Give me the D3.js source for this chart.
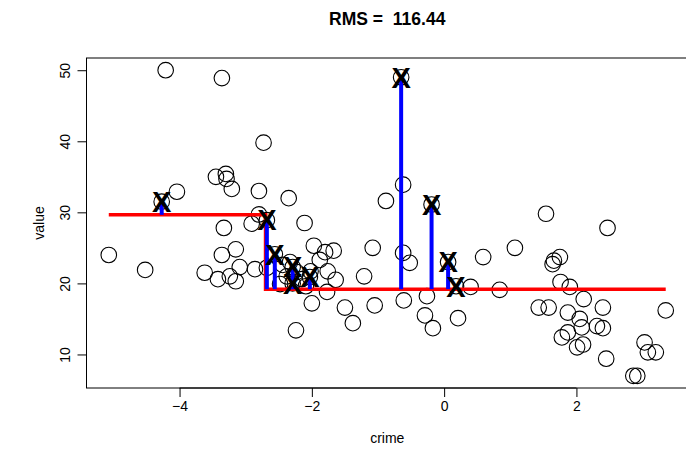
<!DOCTYPE html>
<html>
<head>
<meta charset="utf-8">
<script src="https://cdn.jsdelivr.net/npm/d3@7/dist/d3.min.js"></script>
<style>
  html, body { margin: 0; padding: 0; background: #fff; }
  svg { display: block; font-family: "Liberation Sans", Arial, Helvetica, sans-serif; }
</style>
</head>
<body>
<div id="chart"></div>
<script>
// Training observations (crime, value)
const trainCrime = [
  -5.07, -4.52, -4.21, -4.04, -3.36, -2.73, -3.45, -3.30, -3.29, -3.21,
  -2.80, -2.80, -3.33, -2.91, -3.36, -3.15, -3.62, -3.42, -3.24, -3.15,
  -3.09, -2.86, -2.68, -2.35, -2.11, -1.97, -1.80, -1.67, -1.88, -1.76,
  -1.64, -2.00, -1.77, -2.24, -2.44, -2.33, -2.23, -2.38, -2.15, -2.09,
  -2.02, -2.48, -1.50, -1.38, -1.21, -1.08, -0.88, -0.62, -0.62, -0.52,
  -1.05, -0.61, -0.26, -0.29, -0.17, 0.40, 0.21, 0.59, 0.84, 1.07,
  1.54, 2.47, 1.66, 1.75, 1.64, 1.76, 1.90, 2.11, 1.43, 1.58,
  1.87, 2.40, 2.05, 2.08, 1.78, 1.87, 2.31, 2.40, 2.10, 2.01,
  2.45, 3.35, 3.03, 3.08, 3.20, 2.86, 2.92
];
const trainValue = [
  24.0, 21.9, 50.0, 32.9, 48.9, 39.8, 35.0, 35.4, 34.7, 33.3,
  33.0, 29.7, 27.8, 28.4, 24.0, 24.8, 21.5, 20.6, 21.0, 20.3,
  22.3, 22.0, 22.2, 32.0, 28.5, 25.3, 24.4, 24.6, 23.3, 21.7,
  20.5, 17.2, 18.8, 13.4, 22.6, 23.0, 21.6, 21.0, 20.6, 19.6,
  21.7, 19.9, 16.6, 14.4, 21.0, 25.0, 31.6, 33.9, 24.3, 22.9,
  16.9, 17.6, 18.2, 15.5, 13.7, 19.5, 15.1, 23.7, 19.1, 25.0,
  29.8, 27.8, 23.2, 23.7, 22.7, 20.2, 19.5, 17.8, 16.6, 16.6,
  15.9, 16.6, 15.0, 13.8, 12.4, 13.1, 14.0, 13.7, 11.4, 11.0,
  9.4, 16.2, 11.7, 10.3, 10.3, 7.0, 7.0
];

// Held-out observations, marked with an X and their residual segment
const testCrime = [-4.27, -2.68, -2.56, -2.29, -2.29, -2.03, -0.65, -0.19, 0.06, 0.18];
const testValue = [31.5, 28.9, 24.1, 22.3, 20.0, 20.9, 49.0, 31.1, 23.0, 19.6];

// One-split regression tree: crime < splitCrime -> leafMeans[0], else leafMeans[1]
const splitCrime = -2.70;
const leafMeans = [29.65, 19.19];

const xTicks = [-4, -2, 0, 2];
const yTicks = [10, 20, 30, 40, 50];
const xLabel = "crime";
const yLabel = "value";
const title = "RMS =  116.44";

const W = 686, H = 467;
const plot = { left: 86.5, right: 688, top: 58, bottom: 388 };

const allCrime = trainCrime.concat(testCrime);
const allValue = trainValue.concat(testValue);

// R-style 4% padding on both axes
function padded(ext) {
  const r = ext[1] - ext[0];
  return [ext[0] - 0.04 * r, ext[1] + 0.04 * r];
}
const xExt = d3.extent(allCrime);
const x = d3.scaleLinear().domain(padded(xExt)).range([plot.left, plot.right]);
const y = d3.scaleLinear().domain(padded(d3.extent(allValue))).range([plot.bottom, plot.top]);

const predict = c => (c < splitCrime ? leafMeans[0] : leafMeans[1]);

const svg = d3.select("#chart").append("svg")
  .attr("width", W).attr("height", H);

// title
svg.append("text")
  .attr("x", (plot.left + plot.right) / 2)
  .attr("y", 25)
  .attr("text-anchor", "middle")
  .attr("font-size", 17.5)
  .attr("font-weight", "bold")
  .style("white-space", "pre")
  .text(title);

// axes
const xAxis = d3.axisBottom(x).tickValues(xTicks).tickSize(9).tickPadding(4)
  .tickFormat(d => d3.format("")(d).replace("-", "\u2212"));
const gx = svg.append("g").attr("transform", `translate(0,${plot.bottom})`).call(xAxis);
gx.select(".domain").attr("d", `M${x(xTicks[0])},0H${x(xTicks[xTicks.length - 1])}`);
gx.selectAll("text").attr("font-size", 14).attr("font-family", null).attr("fill", "#000");
gx.selectAll("line").attr("stroke", "#000");

const yAxis = d3.axisLeft(y).tickValues(yTicks).tickSize(9).tickFormat(d3.format(""));
const gy = svg.append("g").attr("transform", `translate(${plot.left},0)`).call(yAxis);
gy.select(".domain").attr("d", `M0,${y(yTicks[0])}V${y(yTicks[yTicks.length - 1])}`);
gy.selectAll("line").attr("stroke", "#000");
gy.selectAll("text")
  .attr("font-size", 14).attr("font-family", null).attr("fill", "#000")
  .attr("x", 0).attr("y", 0).attr("dy", null)
  .attr("text-anchor", "middle")
  .attr("transform", "translate(-17,0) rotate(-90)");

svg.selectAll(".domain").attr("stroke", "#000");

// box around the plotting region
svg.append("rect")
  .attr("x", plot.left).attr("y", plot.top)
  .attr("width", plot.right - plot.left).attr("height", plot.bottom - plot.top)
  .attr("fill", "none").attr("stroke", "#000").attr("stroke-width", 1);

// axis titles
svg.append("text")
  .attr("x", (plot.left + plot.right) / 2).attr("y", 443)
  .attr("text-anchor", "middle").attr("font-size", 14)
  .text(xLabel);
svg.append("text")
  .attr("transform", `translate(44,${(plot.top + plot.bottom) / 2}) rotate(-90)`)
  .attr("text-anchor", "middle").attr("font-size", 14)
  .text(yLabel);

const gPlot = svg.append("g");

// all observations as open circles
const pts = allCrime.map((c, i) => ({ c, v: allValue[i] }));
gPlot.selectAll("circle.obs").data(pts).enter().append("circle")
  .attr("class", "obs")
  .attr("cx", d => x(d.c)).attr("cy", d => y(d.v))
  .attr("r", 7.8)
  .attr("fill", "none").attr("stroke", "#000").attr("stroke-width", 1.1);

// fitted step function
const stepPts = [
  [xExt[0], leafMeans[0]], [splitCrime, leafMeans[0]],
  [splitCrime, leafMeans[1]], [xExt[1], leafMeans[1]]
];
gPlot.append("path")
  .attr("d", d3.line().x(d => x(d[0])).y(d => y(d[1]))(stepPts))
  .attr("fill", "none").attr("stroke", "#ff0000").attr("stroke-width", 3.5);

// residual segments for held-out points
const test = testCrime.map((c, i) => ({ c, v: testValue[i] }));
gPlot.selectAll("line.resid").data(test).enter().append("line")
  .attr("class", "resid")
  .attr("x1", d => x(d.c)).attr("x2", d => x(d.c))
  .attr("y1", d => y(predict(d.c))).attr("y2", d => y(d.v))
  .attr("stroke", "#0000ff").attr("stroke-width", 4);

// X markers on held-out points
gPlot.selectAll("text.mark").data(test).enter().append("text")
  .attr("class", "mark")
  .attr("x", d => x(d.c)).attr("y", d => y(d.v) + 10.3)
  .attr("text-anchor", "middle")
  .attr("font-size", 29).attr("font-weight", "bold")
  .text("X");
</script>
</body>
</html>
